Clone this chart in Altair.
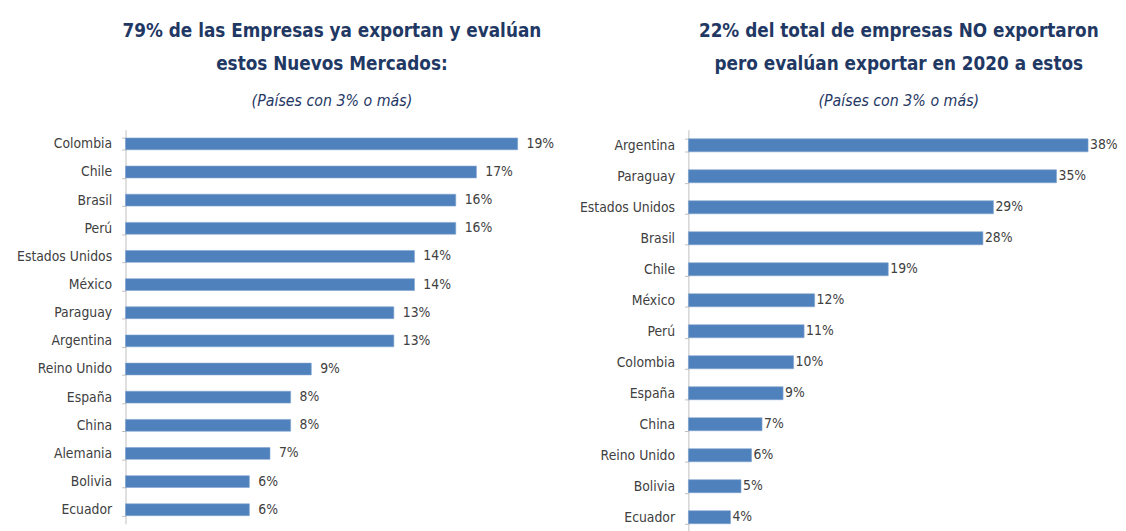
import altair as alt
import pandas as pd

left_countries = ["Colombia", "Chile", "Brasil", "Perú", "Estados Unidos", "México", "Paraguay",
                  "Argentina", "Reino Unido", "España", "China", "Alemania", "Bolivia", "Ecuador"]
left_values = [19, 17, 16, 16, 14, 14, 13, 13, 9, 8, 8, 7, 6, 6]

right_countries = ["Argentina", "Paraguay", "Estados Unidos", "Brasil", "Chile", "México", "Perú",
                   "Colombia", "España", "China", "Reino Unido", "Bolivia", "Ecuador"]
right_values = [38, 35, 29, 28, 19, 12, 11, 10, 9, 7, 6, 5, 4]

left_title = ["79% de las Empresas ya exportan y evalúan", "estos Nuevos Mercados:"]
right_title = ["22% del total de empresas NO exportaron", "pero evalúan exportar en 2020 a estos"]
subtitle = "(Países con 3% o más)"

FONT = "DejaVu Sans Condensed, Roboto Condensed, Liberation Sans, sans-serif"
BAR = "#4F81BD"
NAVY = "#1F3864"
TXT = "#404040"


def panel(countries, values, title_lines, dmax, width, height, dx):
    df = pd.DataFrame({"pais": countries, "valor": values,
                       "label": [f"{v}%" for v in values]})
    base = alt.Chart(df).encode(
        y=alt.Y("pais:N", sort=countries,
                scale=alt.Scale(paddingInner=0.58, paddingOuter=0.29),
                axis=alt.Axis(title=None, tickBand="extent", labelFont=FONT,
                              labelFontSize=14, labelColor=TXT, labelPadding=10,
                              domainColor="#BFBFBF", tickColor="#BFBFBF", tickSize=4)),
        x=alt.X("valor:Q", scale=alt.Scale(domain=[0, dmax]), axis=None),
    )
    bars = base.mark_bar(color=BAR, stroke="#7FA3D0", strokeWidth=0.6)
    text = base.mark_text(align="left", baseline="middle", dx=dx, font=FONT,
                          fontSize=14, color=TXT).encode(text="label:N")
    return alt.layer(bars, text).properties(
        width=width, height=height,
        title=alt.Title(text=title_lines, subtitle=subtitle, font=FONT, fontSize=19,
                        fontWeight="bold", color=NAVY, lineHeight=33,
                        subtitleFont=FONT, subtitleFontSize=16, subtitleFontStyle="italic",
                        subtitleColor=NAVY, subtitlePadding=20, anchor="middle", offset=14),
    )


left = panel(left_countries, left_values, left_title, 20, 418, 399, 9)
right = panel(right_countries, right_values, right_title, 40, 426, 408, 2)

chart = alt.hconcat(left, right, spacing=24).configure(
    background="white", padding={"left": 8, "top": 11, "right": 0, "bottom": 0},
    view=alt.ViewConfig(stroke=None))

chart.save("out.html", embed_options={"renderer": "svg", "actions": False})
